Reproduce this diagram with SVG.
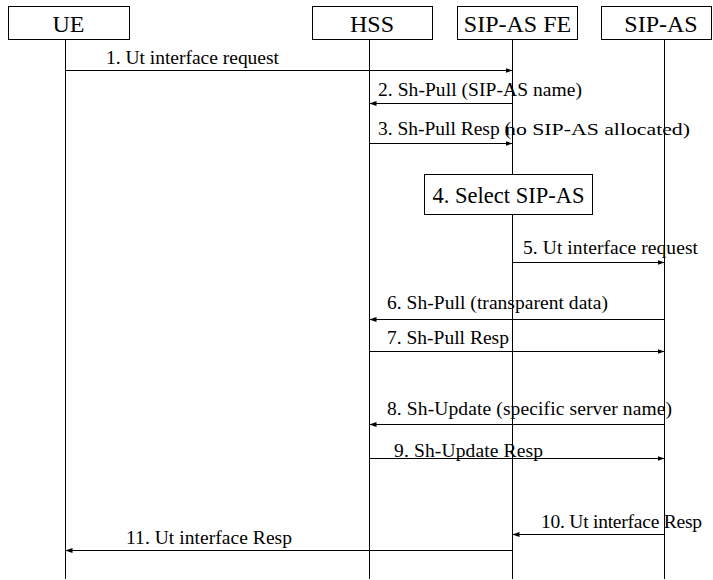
<svg xmlns="http://www.w3.org/2000/svg" width="713" height="580" viewBox="0 0 713 580">
<style>
.box{fill:#fff;stroke:#000;stroke-width:1}
.life{stroke:#000;stroke-width:1}
.hdr{font-size:24px;fill:#000;text-anchor:middle}
.lbl{font-size:19.5px;fill:#000}
.small{font-size:16px;fill:#000}
.msg{stroke:#000;stroke-width:1;fill:none;marker-end:url(#ah)}
</style>
<defs>
<marker id="ah" markerUnits="userSpaceOnUse" markerWidth="7" markerHeight="6" refX="7" refY="3" orient="auto">
<path d="M0,0.5 L7,3 L0,5.5 z" fill="#000"/>
</marker>
</defs>
<rect width="713" height="580" fill="#fff"/>
<g font-family="'Liberation Serif', 'Times New Roman', serif">
<g id="UE">
<rect class="box" x="8.5" y="6.5" width="121" height="33"/>
<line class="life" x1="65.5" y1="39.5" x2="65.5" y2="579" stroke="#555"/>
<text class="hdr" x="68.5" y="32" font-family="Liberation Serif, serif">UE</text>
</g>
<g id="HSS">
<rect class="box" x="312.5" y="6.5" width="120" height="33"/>
<line class="life" x1="369.5" y1="39.5" x2="369.5" y2="579"/>
<text class="hdr" x="372" y="32" font-family="Liberation Serif, serif">HSS</text>
</g>
<g id="SIPASFE">
<rect class="box" x="457.5" y="6.5" width="120" height="33"/>
<line class="life" x1="512.5" y1="39.5" x2="512.5" y2="579"/>
<text class="hdr" x="517.5" y="32" font-family="Liberation Serif, serif">SIP-AS FE</text>
</g>
<g id="SIPAS">
<rect class="box" x="601.5" y="6.5" width="110" height="33"/>
<line class="life" x1="664.5" y1="39.5" x2="664.5" y2="579"/>
<text class="hdr" x="661" y="32" font-family="Liberation Serif, serif">SIP-AS</text>
</g>
<g id="select">
<rect class="box" x="424.5" y="174.5" width="168" height="40"/>
<text class="hdr" x="508.5" y="203" style="font-size:22.5px" font-family="Liberation Serif, serif">4. Select SIP-AS</text>
</g>
<g id="connectors">
<line class="msg" x1="65.5" y1="70.5" x2="512.5" y2="70.5"/>
<text class="lbl" x="106" y="64" textLength="173" lengthAdjust="spacing">1. Ut interface request</text>
<line class="msg" x1="512.5" y1="103.5" x2="369.5" y2="103.5"/>
<text class="lbl" x="378" y="96" textLength="204" lengthAdjust="spacing">2. Sh-Pull (SIP-AS name)</text>
<line class="msg" x1="369.5" y1="143.5" x2="512.5" y2="143.5"/>
<text class="lbl" x="378" y="135" textLength="133" lengthAdjust="spacing">3. Sh-Pull Resp (</text>
<text class="small" x="505" y="135" textLength="185" lengthAdjust="spacingAndGlyphs" font-family="Liberation Serif, serif">no SIP-AS allocated)</text>
<line class="msg" x1="512.5" y1="262.5" x2="664.5" y2="262.5"/>
<text class="lbl" x="523" y="254" textLength="175" lengthAdjust="spacing">5. Ut interface request</text>
<line class="msg" x1="664.5" y1="319.5" x2="369.5" y2="319.5"/>
<text class="lbl" x="387" y="309" textLength="221" lengthAdjust="spacing">6. Sh-Pull (transparent data)</text>
<line class="msg" x1="369.5" y1="351.5" x2="664.5" y2="351.5"/>
<text class="lbl" x="387" y="344">7. Sh-Pull Resp</text>
<line class="msg" x1="664.5" y1="424.5" x2="369.5" y2="424.5"/>
<text class="lbl" x="387" y="415" textLength="285" lengthAdjust="spacing">8. Sh-Update (specific server name)</text>
<line class="msg" x1="369.5" y1="458.5" x2="664.5" y2="458.5"/>
<text class="lbl" x="394" y="457" textLength="149" lengthAdjust="spacing">9. Sh-Update Resp</text>
<line class="msg" x1="664.5" y1="534.5" x2="512.5" y2="534.5"/>
<text class="lbl" x="541" y="528" textLength="161" lengthAdjust="spacing">10. Ut interface Resp</text>
<line class="msg" x1="512.5" y1="550.5" x2="65.5" y2="550.5"/>
<text class="lbl" x="126" y="544" textLength="166" lengthAdjust="spacing">11. Ut interface Resp</text>
</g>
</g>
</svg>
